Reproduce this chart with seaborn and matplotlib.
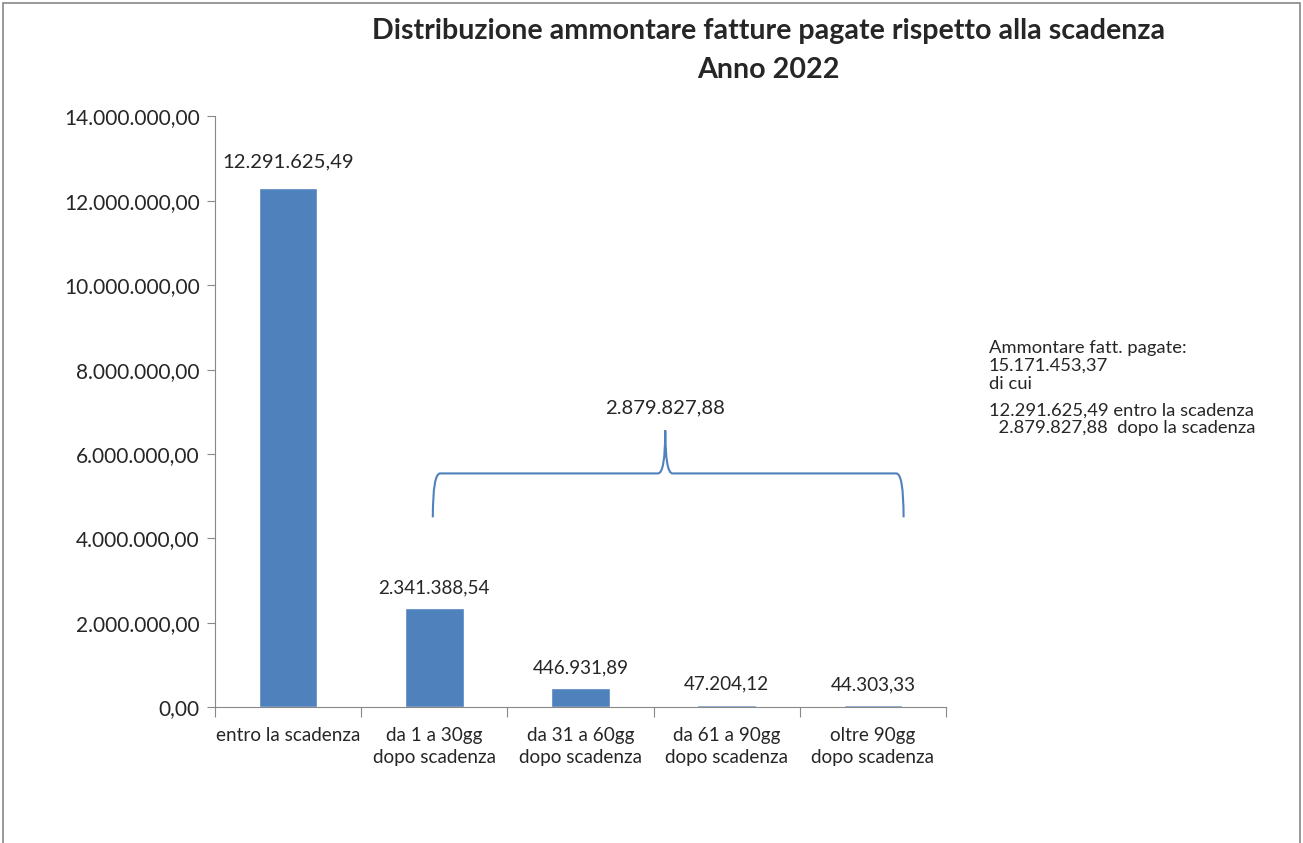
import matplotlib
matplotlib.use('Agg')
import matplotlib.pyplot as plt
import matplotlib.ticker as mticker
from matplotlib.path import Path
from matplotlib.patches import PathPatch, Rectangle
import pandas as pd
import seaborn as sns

categorie = ['entro la scadenza', 'da 1 a 30gg\ndopo scadenza', 'da 31 a 60gg\ndopo scadenza',
             'da 61 a 90gg\ndopo scadenza', 'oltre 90gg\ndopo scadenza']
importi = [12291625.49, 2341388.54, 446931.89, 47204.12, 44303.33]
yticks = [0, 2000000, 4000000, 6000000, 8000000, 10000000, 12000000, 14000000]


def fmt_it(v):
    s = '{:,.2f}'.format(v)
    return s.replace(',', 'X').replace('.', ',').replace('X', '.')


sns.set_style('ticks')
plt.rcParams['font.family'] = ['Lato', 'DejaVu Sans']

df = pd.DataFrame({'cat': categorie, 'val': importi})

fig = plt.figure(figsize=(13.03, 8.43), dpi=100)
ax = fig.add_axes([0.165, 0.161, 0.561, 0.701])
sns.barplot(data=df, x='cat', y='val', color='#4F81BD', saturation=1, width=0.4, ax=ax)

ax.set_ylim(0, 14000000)
ax.set_xlim(-0.5, 4.5)
ax.set_yticks(yticks)
ax.yaxis.set_major_formatter(mticker.FuncFormatter(lambda v, p: fmt_it(v)))
ax.set_xticks([i - 0.5 for i in range(len(categorie) + 1)], minor=False)
ax.set_xticklabels([])
ax.set_xticks(range(len(categorie)), minor=True)
ax.set_xticklabels(categorie, minor=True, fontsize=13.6, linespacing=1.35)
ax.tick_params(axis='x', which='minor', length=0, pad=14)
ax.tick_params(axis='x', which='major', length=7, color='#888888', direction='out')
ax.tick_params(axis='y', length=6, color='#888888', labelsize=15, pad=5)
ax.set_xlabel('')
ax.set_ylabel('')
sns.despine(ax=ax)
for s in ['left', 'bottom']:
    ax.spines[s].set_color('#888888')

for i, v in enumerate(importi):
    off = 13 if i == 0 else 9
    ax.annotate(fmt_it(v), (i, v), xytext=(0, off), textcoords='offset points',
                ha='center', va='bottom', fontsize=14.6 if i == 0 else 13.6)

# graffa sui ritardi
dopo = sum(importi[1:])
x0, x1, xm = -0.01 + 1, 4.21, 2.58
yb, yl, yt = 4500000, 5540000, 6560000
r = 0.05
codes = [Path.MOVETO, Path.CURVE3, Path.CURVE3, Path.LINETO, Path.CURVE3, Path.CURVE3,
         Path.CURVE3, Path.CURVE3, Path.LINETO, Path.CURVE3, Path.CURVE3]
verts = [(x0, yb), (x0, yl), (x0 + r, yl), (xm - r, yl), (xm, yl), (xm, yt),
         (xm, yl), (xm + r, yl), (x1 - r, yl), (x1, yl), (x1, yb)]
ax.add_patch(PathPatch(Path(verts, codes), fill=False, edgecolor='#4F81BD', lw=1.5, clip_on=False))
ax.text(xm, 7100000, fmt_it(dopo), ha='center', va='center', fontsize=14.6)

fig.text(0.59, 0.963, 'Distribuzione ammontare fatture pagate rispetto alla scadenza',
         ha='center', va='center', fontsize=20.6, fontweight='bold')
fig.text(0.59, 0.917, 'Anno 2022', ha='center', va='center', fontsize=20.6, fontweight='bold')

totale = sum(importi)
fig.text(0.759, 0.597,
         'Ammontare fatt. pagate:\n' + fmt_it(totale) + '\ndi cui',
         ha='left', va='top', fontsize=13.2, linespacing=1.15)
fig.text(0.759, 0.522,
         fmt_it(importi[0]) + ' entro la scadenza\n  ' + fmt_it(dopo) + '  dopo la scadenza',
         ha='left', va='top', fontsize=13.2, linespacing=1.08)

fig.add_artist(Rectangle((0.002, -0.01), 0.996, 1.007, transform=fig.transFigure,
                         fill=False, edgecolor='#888888', lw=1.2))

fig.savefig('out.png', dpi=100)
